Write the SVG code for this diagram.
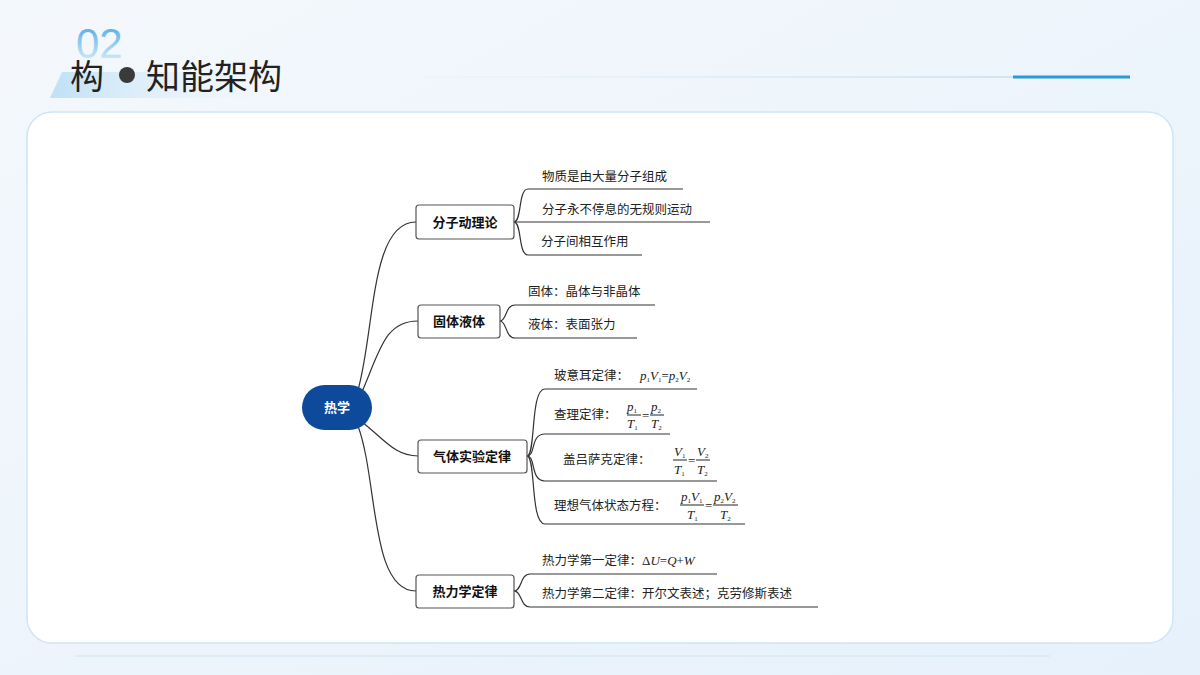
<svg xmlns="http://www.w3.org/2000/svg" width="1200" height="675" viewBox="0 0 1200 675">
<defs>
<linearGradient id="bg" x1="0" y1="0" x2="1" y2="1"><stop offset="0" stop-color="#f4f8fc"/><stop offset="1" stop-color="#e6f1fb"/></linearGradient>
<linearGradient id="num" x1="0" y1="0" x2="0" y2="1"><stop offset="0" stop-color="#2b9be0"/><stop offset="1" stop-color="#e8f4fc"/></linearGradient>
<linearGradient id="band" x1="0" y1="0" x2="1" y2="0"><stop offset="0" stop-color="#bfe0f6"/><stop offset="1" stop-color="#f4f9fd" stop-opacity="0"/></linearGradient>
<linearGradient id="hl" x1="0" y1="0" x2="1" y2="0"><stop offset="0" stop-color="#d8ebf7" stop-opacity="0.3"/><stop offset="1" stop-color="#9fcdea"/></linearGradient>
<style>
.t{font-family:"Noto Sans CJK SC","Liberation Sans",sans-serif;fill:#222}
.box{fill:#fff;stroke:#555;stroke-width:1.2}
.bl{font-family:"Noto Sans CJK SC",sans-serif;font-size:13px;font-weight:bold;fill:#111;text-anchor:middle}
.lf{font-family:"Noto Sans CJK SC",sans-serif;font-size:12.5px;fill:#222}
.m{font-family:"Liberation Serif",serif;font-style:italic;font-size:13px;fill:#222}
.s{font-size:7px;font-style:normal}
.c{fill:none;stroke:#333;stroke-width:1.2}
</style>
</defs>
<rect width="1200" height="675" fill="url(#bg)"/>
<g id="header">
<text x="76" y="58" font-family="Liberation Sans,sans-serif" font-size="42" fill="url(#num)" opacity="0.9">02</text>
<polygon points="62,72 300,72 300,98 50,98" fill="url(#band)"/>
<text class="t" x="70" y="89" font-size="34" fill="#333">构</text>
<circle cx="127" cy="75" r="8" fill="#3a3a3a"/>
<text class="t" x="146" y="89" font-size="34" fill="#333">知能架构</text>
<rect x="425" y="76.5" width="705" height="1" fill="url(#hl)"/>
<rect x="1013" y="75.5" width="117" height="3" fill="#2a9ad8"/>
</g>
<rect x="27" y="112" width="1146" height="531" rx="25" fill="#fff" stroke="#cfe5f5" stroke-width="1.5"/>
<rect x="75" y="655.5" width="975" height="1" fill="#cfe3f2"/>
<g id="connectors" class="c">
<path d="M358,390 C375,330 370,222 416,222"/>
<path d="M362,392 C380,350 385,321 418,321"/>
<path d="M362,422 C385,440 395,456 418,456"/>
<path d="M358,426 C378,480 370,591 416,591"/>
<path d="M514,222 C522,222 518,189 528,189 L683,189"/>
<path d="M514,222 L710,222"/>
<path d="M514,222 C522,222 518,255 528,255 L642,255"/>
<path d="M500,321 C507,321 505,305 515,305 L655,305"/>
<path d="M500,321 C507,321 505,338 515,338 L637,338"/>
<path d="M527,456 C536,456 530,389 545,389 L697,389"/>
<path d="M527,456 C536,456 530,434 545,434 L670,434"/>
<path d="M527,456 C536,456 530,481 545,481 L717,481"/>
<path d="M527,456 C536,456 530,524 545,524 L745,524"/>
<path d="M514,591 C522,591 520,574 530,574 L717,574"/>
<path d="M514,591 C522,591 520,607 530,607 L818,607"/>
</g>
<g id="root"><rect x="302" y="385" width="70" height="45" rx="22.5" fill="#0d4a9c"/><text class="bl" x="337" y="412" style="fill:#fff">热学</text></g>
<g id="n1"><rect class="box" x="416" y="205" width="98" height="34" rx="3"/><text class="bl" x="465" y="227">分子动理论</text></g>
<g id="n2"><rect class="box" x="418" y="305" width="82" height="33" rx="3"/><text class="bl" x="459" y="326">固体液体</text></g>
<g id="n3"><rect class="box" x="418" y="440" width="109" height="33" rx="3"/><text class="bl" x="472" y="461">气体实验定律</text></g>
<g id="n4"><rect class="box" x="416" y="575" width="98" height="33" rx="3"/><text class="bl" x="465" y="596">热力学定律</text></g>
<g id="leaves">
<text class="lf" x="542" y="181">物质是由大量分子组成</text>
<text class="lf" x="542" y="214">分子永不停息的无规则运动</text>
<text class="lf" x="541" y="246">分子间相互作用</text>
<text class="lf" x="528" y="296">固体：晶体与非晶体</text>
<text class="lf" x="528" y="329">液体：表面张力</text>
<text class="lf" x="554" y="380">玻意耳定律：</text>
<text class="m" x="640" y="380">p<tspan class="s" dy="2">1</tspan><tspan dy="-2">V</tspan><tspan class="s" dy="2">1</tspan><tspan dy="-2" font-style="normal">=</tspan>p<tspan class="s" dy="2">2</tspan><tspan dy="-2">V</tspan><tspan class="s" dy="2">2</tspan></text>
<text class="lf" x="554" y="419">查理定律：</text>
<text class="m" x="627" y="411">p<tspan class="s" dy="2">1</tspan></text><line x1="627" y1="415" x2="641" y2="415" stroke="#222"/><text class="m" x="627" y="428">T<tspan class="s" dy="2">1</tspan></text>
<text class="m" x="642" y="420" style="font-style:normal">=</text>
<text class="m" x="651" y="411">p<tspan class="s" dy="2">2</tspan></text><line x1="650" y1="415" x2="664" y2="415" stroke="#222"/><text class="m" x="651" y="428">T<tspan class="s" dy="2">2</tspan></text>
<text class="lf" x="563" y="464">盖吕萨克定律：</text>
<text class="m" x="674" y="456">V<tspan class="s" dy="2">1</tspan></text><line x1="673" y1="460" x2="687" y2="460" stroke="#222"/><text class="m" x="674" y="474">T<tspan class="s" dy="2">1</tspan></text>
<text class="m" x="688" y="465" style="font-style:normal">=</text>
<text class="m" x="697" y="456">V<tspan class="s" dy="2">2</tspan></text><line x1="696" y1="460" x2="710" y2="460" stroke="#222"/><text class="m" x="697" y="474">T<tspan class="s" dy="2">2</tspan></text>
<text class="lf" x="554" y="510">理想气体状态方程：</text>
<text class="m" x="681" y="501">p<tspan class="s" dy="2">1</tspan><tspan dy="-2">V</tspan><tspan class="s" dy="2">1</tspan></text><line x1="680" y1="505" x2="704" y2="505" stroke="#222"/><text class="m" x="687" y="519">T<tspan class="s" dy="2">1</tspan></text>
<text class="m" x="705" y="510" style="font-style:normal">=</text>
<text class="m" x="714" y="501">p<tspan class="s" dy="2">2</tspan><tspan dy="-2">V</tspan><tspan class="s" dy="2">2</tspan></text><line x1="713" y1="505" x2="738" y2="505" stroke="#222"/><text class="m" x="720" y="519">T<tspan class="s" dy="2">2</tspan></text>
<text class="lf" x="542" y="565">热力学第一定律：<tspan class="m" style="font-style:normal">Δ</tspan><tspan class="m">U</tspan><tspan class="m" style="font-style:normal">=</tspan><tspan class="m">Q</tspan><tspan class="m" style="font-style:normal">+</tspan><tspan class="m">W</tspan></text>
<text class="lf" x="542" y="598">热力学第二定律：开尔文表述；克劳修斯表述</text>
</g>
</svg>
